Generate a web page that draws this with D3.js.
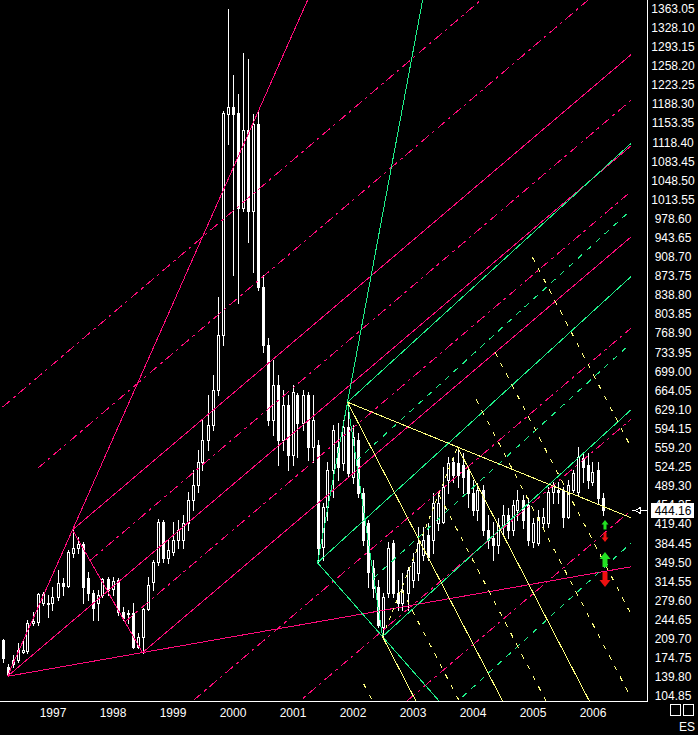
<!DOCTYPE html>
<html><head><meta charset="utf-8">
<script src="https://cdnjs.cloudflare.com/ajax/libs/d3/7.8.5/d3.min.js"></script>
<style>html,body{margin:0;padding:0;background:#000;overflow:hidden}svg{display:block}</style>
</head><body><svg id="c" width="698" height="735"></svg>
<script>
// ---- DATA (monthly bars, first bar = March 1996) ----
const firstBar = "1996-03";
const open = [207.2,157.9,161.6,170.6,185.2,187.1,238.2,240.0,274.7,272.9,
274.7,285.7,311.2,305.8,366.0,375.2,382.5,320.4,293.0,274.7,
289.3,318.5,300.3,316.7,258.3,256.5,256.5,194.4,212.6,263.8,
313.1,349.6,422.6,356.9,367.9,389.8,389.8,420.8,462.8,490.2,
532.2,572.4,599.7,663.7,764.1,1169.5,1182.2,1171.3,997.8,1140.2,
992.3,1151.2,851.7,745.8,608.9,672.8,572.4,636.3,545.0,654.5,
603.4,654.5,559.6,563.2,377.0,450.0,517.6,559.6,530.4,596.1,
504.8,572.4,475.6,420.8,338.6,304.0,230.9,293.0,384.3,293.0,
274.7,293.0,316.7,329.5,362.4,398.9,389.8,420.8,422.6,499.3,
532.2,530.4,526.7,517.6,475.6,444.5,481.1,408.0,393.4,380.6,
417.2,435.4,408.0,444.5,462.8,453.7,386.1,384.3,420.8,420.8,
477.4,481.1,481.1,431.8,481.1,477.4,539.5,526.7,495.7,517.6,
466.5];
const high = [209.0,161.6,179.8,201.7,207.2,243.7,258.3,293.0,294.8,289.3,
303.9,335.0,320.4,371.5,408.0,395.2,386.1,331.3,298.5,298.5,
320.4,322.2,322.2,320.4,267.4,261.9,274.7,220.0,265.6,322.2,
353.2,428.1,426.3,389.8,422.6,426.3,435.4,477.4,517.6,554.1,
608.9,654.5,691.0,833.5,1174.9,1361.2,1240.7,1206.0,1280.8,1269.9,
1169.5,1174.9,873.7,758.6,718.4,691.0,663.7,654.5,672.8,658.2,
663.7,660.0,654.5,572.4,457.3,532.2,599.7,603.4,608.9,641.7,
599.7,585.1,484.7,426.3,353.2,316.7,293.0,386.1,389.8,316.7,
329.5,340.5,366.0,413.5,413.5,420.8,475.6,475.6,523.1,541.3,
539.5,559.6,548.6,523.1,499.3,493.8,490.2,435.4,422.6,429.9,
453.7,448.2,462.8,481.1,471.9,466.5,429.9,444.5,448.2,486.5,
495.7,495.7,486.5,499.3,517.6,559.6,550.4,548.6,532.2,532.2,
475.6];
const low = [167.0,140.0,157.9,167.0,183.4,183.4,234.6,234.6,271.1,249.2,
261.9,280.2,289.3,304.0,358.7,366.0,274.7,280.2,243.7,243.7,
285.7,289.3,289.3,252.8,243.7,238.2,192.5,192.5,183.4,261.9,
298.5,344.1,349.6,347.8,362.4,375.2,375.2,408.0,444.5,477.4,
517.6,554.1,590.6,654.5,745.8,1114.7,873.7,822.5,992.3,933.9,
879.1,846.3,733.0,599.7,581.5,526.7,554.1,517.6,526.7,541.3,
590.6,535.8,532.2,347.8,353.2,426.3,468.3,499.3,517.6,506.6,
493.8,468.3,380.6,304.0,285.7,230.9,212.6,285.7,285.7,261.9,
261.9,261.9,304.0,316.7,353.2,353.2,366.0,408.0,420.8,475.6,
495.7,486.5,475.6,450.0,435.4,426.3,398.9,375.2,353.2,366.0,
398.9,393.4,398.9,426.3,411.7,380.6,377.0,380.6,413.5,413.5,
457.3,457.3,413.5,430.0,477.4,471.9,495.7,484.7,490.2,457.3,
435.4];
const close = [174.3,143.7,170.6,188.9,188.9,238.2,241.9,291.2,291.2,274.7,
285.7,311.2,305.8,367.9,375.2,382.5,304.0,293.0,265.6,289.3,
318.5,298.5,314.9,258.3,247.3,254.6,194.4,212.6,263.8,307.6,
349.6,422.6,356.9,371.5,389.8,408.0,420.8,462.8,490.2,532.2,
572.4,599.7,663.7,764.1,1171.3,1182.2,1169.5,997.8,1140.2,992.3,
1151.2,851.7,745.8,608.9,672.8,572.4,636.3,545.0,660.0,603.4,
654.5,559.6,608.9,375.2,450.0,517.6,590.6,523.1,596.1,512.1,
577.8,475.6,389.8,331.3,302.1,234.6,285.7,375.2,293.0,274.7,
298.5,335.0,349.6,384.3,389.8,358.7,457.3,457.3,486.5,530.4,
508.5,508.5,504.8,475.6,444.5,481.1,408.0,389.8,380.6,417.2,
435.4,408.0,453.7,462.8,426.3,389.8,420.8,431.8,431.8,477.4,
490.2,477.4,431.8,490.2,512.1,541.3,523.1,499.3,513.9,466.5,
444.16];
const priceTicks = ["104.85","139.80","174.75","209.70","244.65","279.60","314.55","349.50","384.45","419.40",
"454.35","489.30","524.25","559.20","594.15","629.10","664.05","699.00","733.95","768.90",
"803.85","838.80","873.75","908.70","943.65","978.60","1013.55","1048.50","1083.45","1118.40",
"1153.35","1188.30","1223.25","1258.20","1293.15","1328.10","1363.05"];
const yearLabels = ["1997","1998","1999","2000","2001","2002","2003","2004","2005","2006"];
const lastPrice = 444.16;
const symbol = "ES";
// pivot anchors (bar index, price)
const magentaPivots = [{i:1,v:140.0},{i:14,v:408.0},{i:28,v:183.4}];
const greenPivots   = [{i:63,v:347.8},{i:69,v:641.7},{i:76,v:212.6}];
const yellowPivots  = [{i:69,v:641.7},{i:76,v:212.6},{i:91,v:559.6}];
const magentaLevels = {solid:[0,1], dashed:[-1,-0.5,0.25,0.75,1.5,2,2.5]};
const greenLevels   = {solid:[0,1], dashed:[0.25,0.75,1.5]};
const yellowLevels  = {solid:[0,1], dashed:[-0.25,0.25,0.75,1.25,1.5,2]};
const projectionEnd = 125.7; // bar index where projections stop
const signals = [{i:120.5,v:426.0,dir:"up",big:false},{i:120.5,v:385.8,dir:"down",big:false},
                 {i:120.5,v:367.5,dir:"up",big:true},{i:120.5,v:303.4,dir:"down",big:true}];

// ---- CHART ----
const svg = d3.select("#c");
svg.append("rect").attr("width",698).attr("height",735).attr("fill","#000");
const x = d3.scaleLinear().domain([0,120]).range([2.5,602.5]);
const y = d3.scaleLinear().domain([104.85,1363.05]).range([695.5,8]);
const plotR = 647, plotB = 701;

svg.append("defs").append("clipPath").attr("id","clip")
  .append("rect").attr("x",0).attr("y",0).attr("width",x(projectionEnd)).attr("height",plotB);

// candles
const bars = d3.range(close.length).map(i=>({i,o:open[i],h:high[i],l:low[i],c:close[i]}));
const cg = svg.append("g").attr("shape-rendering","crispEdges");
cg.selectAll("line.w").data(bars).join("line")
  .attr("x1",d=>Math.round(x(d.i))+0.5).attr("x2",d=>Math.round(x(d.i))+0.5)
  .attr("y1",d=>Math.round(y(d.h))).attr("y2",d=>Math.round(y(d.l))+1)
  .attr("stroke","#fff").attr("stroke-width",1);
cg.selectAll("rect.b").data(bars).join("rect")
  .each(function(d){
    const cx = Math.round(x(d.i));
    const t = Math.round(y(Math.max(d.o,d.c))), b = Math.round(y(Math.min(d.o,d.c)));
    const s = d3.select(this);
    if (d.c >= d.o) { // up: hollow
      s.attr("x",cx-0.5).attr("y",t+0.5).attr("width",2).attr("height",Math.max(1,b-t))
       .attr("fill","#000").attr("stroke","#fff").attr("stroke-width",1);
    } else {
      s.attr("x",cx-1).attr("y",t).attr("width",3).attr("height",Math.max(1,b-t+1)).attr("fill","#fff");
    }
  });

// pitchfork lines
const lg = svg.append("g").attr("clip-path","url(#clip)").attr("shape-rendering","crispEdges").attr("fill","none");
function P(p){return [x(p.i),y(p.v)];}
function drawLine(p,q,color,dash){
  lg.append("line").attr("x1",x(p.i)).attr("y1",y(p.v)).attr("x2",x(q.i)).attr("y2",y(q.v))
    .attr("stroke",color).attr("stroke-width",1).attr("stroke-dasharray",dash||null);
}
function ray(p,d,k){return {i:p.i+d.i*k, v:p.v+d.v*k};}
function fork(piv,levels,color,dash,opts){
  const [A,B,C]=piv;
  const M={i:(B.i+C.i)/2,v:(B.v+C.v)/2};
  const d={i:M.i-A.i,v:M.v-A.v};
  const far=60;
  drawLine(A,ray(A,d,far),color); // median
  levels.solid.forEach(t=>{const s={i:B.i+t*(C.i-B.i),v:B.v+t*(C.v-B.v)};drawLine(s,ray(s,d,far),color);});
  levels.dashed.forEach(t=>{const s={i:B.i+t*(C.i-B.i),v:B.v+t*(C.v-B.v)};drawLine(s,ray(s,d,far),color,dash);});
  if(opts.ab) drawLine(A,ray(A,{i:B.i-A.i,v:B.v-A.v},far),color);
  if(opts.ac) drawLine(A,ray(A,{i:C.i-A.i,v:C.v-A.v},far),color);
  if(opts.bc) drawLine(B,C,color,opts.bcDash||null);
}
const MAG="#ff0a7a", GRN="#1ef08a", YEL="#ffff80";
fork(magentaPivots,magentaLevels,MAG,"10,4,3,4",{ab:true,ac:true,bc:true});
fork(greenPivots,greenLevels,GRN,"6,6",{ab:true,ac:true,bc:true});
fork(yellowPivots,yellowLevels,YEL,"5,7",{ab:false,ac:true,bc:true,bcDash:"4,5"});

// signal arrows
signals.forEach(s=>{
  const cx=x(s.i), ty=y(s.v);
  const hw = s.big?5.5:3.5, hh = s.big?7:4.5, sw = s.big?2.5:1.5, sl = s.big?8:5;
  const dir = s.dir==="up"?1:-1;
  const pts=[[cx,ty],[cx+hw,ty+dir*hh],[cx+sw,ty+dir*hh],[cx+sw,ty+dir*(hh+sl)],
             [cx-sw,ty+dir*(hh+sl)],[cx-sw,ty+dir*hh],[cx-hw,ty+dir*hh]];
  svg.append("polygon").attr("points",pts.map(p=>p.join(",")).join(" "))
    .attr("fill",s.dir==="up"?"#22e022":"#ee1010");
});

// axes frame
svg.append("line").attr("x1",plotR+0.5).attr("x2",plotR+0.5).attr("y1",0).attr("y2",plotB+1)
  .attr("stroke","#fff").attr("shape-rendering","crispEdges");
svg.append("line").attr("x1",0).attr("x2",plotR+1).attr("y1",plotB+0.5).attr("y2",plotB+0.5)
  .attr("stroke","#fff").attr("shape-rendering","crispEdges");

const font = "'Liberation Sans', Arial, sans-serif";
// price axis
const ya = svg.append("g").attr("transform",`translate(${plotR},0)`)
  .call(d3.axisRight(y).tickValues(priceTicks.map(Number)).tickSize(0).tickFormat((d,i)=>priceTicks[i]));
ya.select(".domain").remove();
ya.selectAll("text").attr("x",26).attr("dy","0.36em").attr("text-anchor","middle")
  .attr("fill","#fff").style("font-family",font).style("font-size","12px");

// year axis
const yearIdx = yearLabels.map(s=>(+s-1996)*12-2);
const xa = svg.append("g").attr("transform",`translate(0,${plotB})`)
  .call(d3.axisBottom(x).tickValues(yearIdx).tickSize(0).tickFormat((d,i)=>yearLabels[i]));
xa.select(".domain").remove();
xa.selectAll("text").attr("y",7).attr("dy","0.71em").attr("fill","#fff")
  .style("font-family",font).style("font-size","12px");

// last price box + marker
const ly = y(lastPrice);
svg.append("rect").attr("x",651).attr("y",Math.round(ly)-7).attr("width",43).attr("height",15).attr("fill","#fff");
svg.append("text").attr("x",673).attr("y",ly).attr("dy","0.38em").attr("text-anchor","middle")
  .attr("fill","#000").style("font-family",font).style("font-size","12px").text(lastPrice.toFixed(2));
const mg = svg.append("g").attr("shape-rendering","crispEdges");
mg.append("line").attr("x1",632).attr("x2",647).attr("y1",Math.round(ly)+0.5).attr("y2",Math.round(ly)+0.5).attr("stroke","#fff");
mg.append("polygon").attr("points",`${635},${Math.round(ly)+0.5} ${640.5},${Math.round(ly)-2.5} ${640.5},${Math.round(ly)+3.5}`)
  .attr("fill","#000").attr("stroke","#fff");

// bottom-right boxes and symbol
svg.append("rect").attr("x",670.5).attr("y",704.5).attr("width",10).attr("height",11).attr("fill","none").attr("stroke","#fff");
svg.append("rect").attr("x",683.5).attr("y",704.5).attr("width",10).attr("height",11).attr("fill","none").attr("stroke","#fff");
svg.append("text").attr("x",695).attr("y",731).attr("text-anchor","end").attr("fill","#fff")
  .style("font-family",font).style("font-size","12px").text(symbol);
</script></body></html>
